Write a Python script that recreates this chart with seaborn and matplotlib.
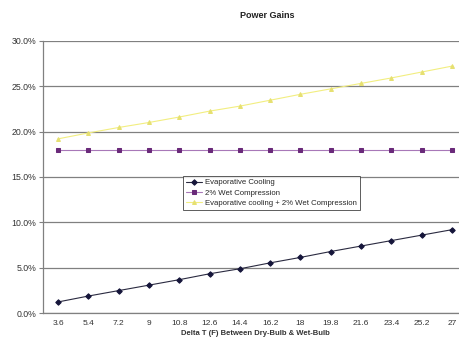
import pandas as pd
import matplotlib
matplotlib.use("Agg")
import matplotlib.pyplot as plt
import seaborn as sns
from matplotlib.ticker import FuncFormatter, MultipleLocator

# data
delta_t = [3.6, 5.4, 7.2, 9, 10.8, 12.6, 14.4, 16.2, 18, 19.8, 21.6, 23.4, 25.2, 27]
tick_labels = ["3.6", "5.4", "7.2", "9", "10.8", "12.6", "14.4", "16.2", "18",
               "19.8", "21.6", "23.4", "25.2", "27"]
evap_cooling = [1.25, 1.9, 2.5, 3.1, 3.7, 4.35, 4.9, 5.55, 6.15, 6.8, 7.4, 8.0, 8.6, 9.2]
wet_compression = [18.0] * 14
evap_plus_wet = [19.2, 19.85, 20.45, 21.0, 21.6, 22.25, 22.8, 23.45, 24.1, 24.7,
                 25.3, 25.9, 26.55, 27.2]

names = ["Evaporative Cooling", "2% Wet Compression",
         "Evaporative cooling + 2% Wet Compression"]

df = pd.DataFrame({
    "dT": delta_t * 3,
    "gain": evap_cooling + wet_compression + evap_plus_wet,
    "series": [names[0]] * 14 + [names[1]] * 14 + [names[2]] * 14,
})

sns.set_style("white")
plt.rcParams["font.family"] = ["Liberation Sans", "DejaVu Sans"]

fig = plt.figure(figsize=(4.6, 3.41), dpi=100)
ax = fig.add_axes([43 / 460, (341 - 313.3) / 341, 424 / 460, 272.6 / 341])

line_colors = ["#2a2a40", "#a878b8", "#f2ee80"]
marker_colors = ["#15153a", "#6a2a7a", "#e6e070"]
markers = ["D", "s", "^"]

for i, name in enumerate(names):
    sub = df[df["series"] == name]
    sns.lineplot(data=sub, x="dT", y="gain", ax=ax, color=line_colors[i],
                 linewidth=0.8, marker=markers[i], markersize=2.8,
                 markerfacecolor=marker_colors[i], markeredgecolor=marker_colors[i],
                 label=name)

ax.set_xlim(2.7, 27.9)
ax.set_ylim(0, 30)
ax.set_xticks(delta_t)
ax.set_xticklabels(tick_labels)
ax.set_xticks([v + 0.9 for v in delta_t], minor=True)
ax.yaxis.set_major_locator(MultipleLocator(5))
ax.yaxis.set_major_formatter(FuncFormatter(lambda v, p: f"{v:.1f}%"))

ax.grid(axis="y", color="#808080", linewidth=0.9)
ax.grid(axis="x", visible=False)
for s in ["top", "right"]:
    ax.spines[s].set_visible(False)
for s in ["left", "bottom"]:
    ax.spines[s].set_color("#808080")
    ax.spines[s].set_linewidth(0.9)

ax.tick_params(axis="x", which="major", length=0, labelsize=6, colors="#333333", pad=5)
ax.tick_params(axis="x", which="minor", length=3, direction="inout", color="#808080")
ax.tick_params(axis="y", length=3, direction="out", color="#808080",
               labelsize=6.3, labelcolor="#333333", pad=2, left=True)

ax.set_xlabel("Delta T (F) Between Dry-Bulb & Wet-Bulb", fontsize=5.5,
              fontweight="bold", color="#333333", labelpad=2)
ax.set_ylabel("")
fig.text(267 / 460, 1 - 15 / 341, "Power Gains", ha="center", va="center",
         fontsize=6.5, fontweight="bold", color="#222222")

leg = ax.legend(loc="upper left", bbox_to_anchor=(0.33, 0.504), fontsize=5.6,
                frameon=True, fancybox=False, borderpad=0.4, labelspacing=0.35,
                handlelength=2.0, handletextpad=0.4, borderaxespad=0)
leg.get_frame().set_edgecolor("#333333")
leg.get_frame().set_linewidth(0.7)

fig.savefig("out.png", dpi=100)
